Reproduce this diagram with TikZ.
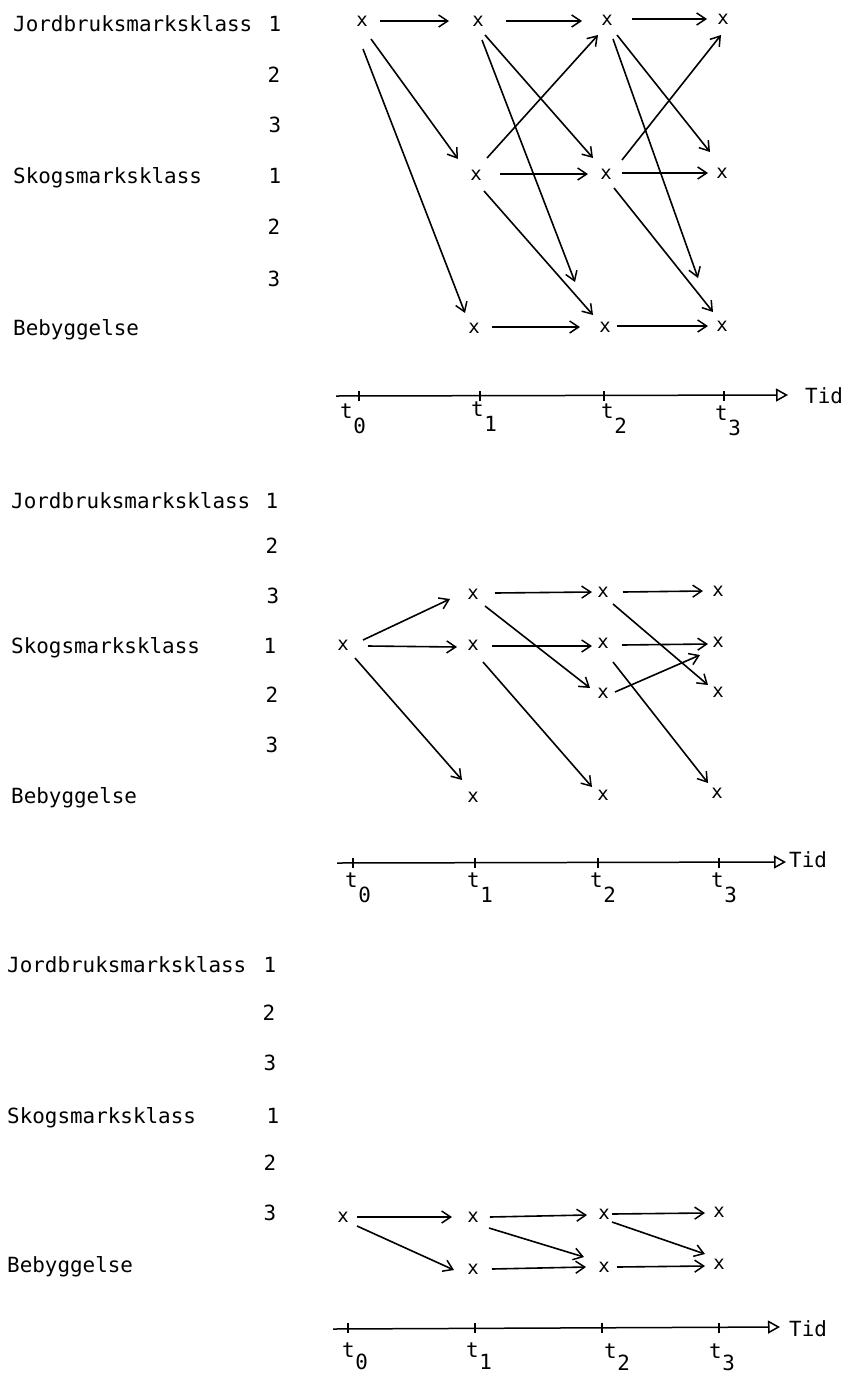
\documentclass[tikz,border=0pt]{standalone}
\usepackage{fontspec}
\newfontfamily\typw{DejaVu Sans Mono}
\usetikzlibrary{arrows.meta,calc}
\begin{document}
\begin{tikzpicture}[x=1pt,y=-1pt,
  lab/.style={anchor=base west,inner sep=0pt,font=\typw\fontsize{20.9}{24}\selectfont},
  num/.style={anchor=base,inner sep=0pt,font=\typw\fontsize{20.9}{24}\selectfont},
  mk/.style={inner sep=0pt,font=\typw\fontsize{19}{20}\selectfont},
  arr/.style={line width=1.6pt,-{Straight Barb[length=9pt,width=12pt,line width=1.5pt]}},
  ax/.style={line width=1.5pt,-{Triangle[open,length=12pt,width=13pt,line width=1.5pt]}},
  tk/.style={line width=1.4pt},
  tl/.style={anchor=base west,inner sep=0pt,font=\typw\fontsize{20.9}{24}\selectfont}]
\useasboundingbox (0,0) rectangle (843,1374);
\newcommand\tsub[2][15pt]{t\kern0.5pt\raisebox{-#1}{#2}}

% ================= Panel 1 =================
\node[lab] (p1l1) at (13,31) {Jordbruksmarksklass};
\node[num] (p1n1) at (275,31) {1};
\node[num] (p1n2) at (274,82) {2};
\node[num] (p1n3) at (275,132) {3};
\node[lab] (p1l2) at (13,183) {Skogsmarksklass};
\node[num] (p1n4) at (275,183) {1};
\node[num] (p1n5) at (274,234) {2};
\node[num] (p1n6) at (274,286) {3};
\node[lab] (p1l3) at (13,335) {Bebyggelse};

\node[mk] (a0) at (362,21) {x};
\node[mk] (a1) at (478,21) {x};
\node[mk] (a2) at (607,20) {x};
\node[mk] (a3) at (723,19) {x};
\node[mk] (s1) at (476,175) {x};
\node[mk] (s2) at (606,174) {x};
\node[mk] (s3) at (722,173) {x};
\node[mk] (b1) at (474,328) {x};
\node[mk] (b2) at (605,327) {x};
\node[mk] (b3) at (722,326) {x};
\coordinate (e7) at (575,282);
\coordinate (e13) at (698,278);

\draw[arr] ($(a0)+(18,0)$) -- ($(a1)+(-29,0)$);
\draw[arr] ($(a1)+(28,0)$) -- ($(a2)+(-25,1)$);
\draw[arr] ($(a2)+(25,-1)$) -- ($(a3)+(-16,0)$);
\draw[arr] ($(a0)+(9,18)$) -- ($(s1)+(-18,-16)$);
\draw[arr] ($(a0)+(1,28)$) -- ($(b1)+(-9,-15)$);
\draw[arr] ($(a1)+(7,14)$) -- ($(s2)+(-13,-16)$);
\draw[arr] ($(a1)+(4,19)$) -- (e7);
\draw[arr] ($(s1)+(11,-17)$) -- ($(a2)+(-9,15)$);
\draw[arr] ($(s1)+(24,-1)$) -- ($(s2)+(-18,0)$);
\draw[arr] ($(s1)+(8,16)$) -- ($(b2)+(-12,-12)$);
\draw[arr] ($(b1)+(18,-1)$) -- ($(b2)+(-25,0)$);
\draw[arr] ($(a2)+(10,15)$) -- ($(s3)+(-12,-21)$);
\draw[arr] ($(a2)+(6,19)$) -- (e13);
\draw[arr] ($(s2)+(16,-14)$) -- ($(a3)+(-2,16)$);
\draw[arr] ($(s2)+(16,-1)$) -- ($(s3)+(-14,0)$);
\draw[arr] ($(s2)+(8,14)$) -- ($(b3)+(-9,-14)$);
\draw[arr] ($(b2)+(12,-1)$) -- ($(b3)+(-14,0)$);

\coordinate (ax1s) at (336,396);
\coordinate (ax1e) at (788,395);
\draw[ax] (ax1s) -- (ax1e);
\foreach \n/\x in {0/359,1/480,2/604,3/724}{
  \coordinate (k1t\n) at (\x,396);
  \draw[tk] ($(k1t\n)+(0,-5)$) -- ($(k1t\n)+(0,5)$);
}
\node[lab] (tid1) at (805,403) {Tid};
\node[tl] (p1t0) at (340,418) {\tsub{0}};
\node[tl] (p1t1) at (471,416) {\tsub{1}};
\node[tl] (p1t2) at (601,418) {\tsub{2}};
\node[tl] (p1t3) at (715,420) {\tsub{3}};

% ================= Panel 2 =================
\node[lab] (p2l1) at (11,508) {Jordbruksmarksklass};
\node[num] (p2n1) at (272,508) {1};
\node[num] (p2n2) at (272,553) {2};
\node[num] (p2n3) at (273,603) {3};
\node[lab] (p2l2) at (11,653) {Skogsmarksklass};
\node[num] (p2n4) at (270,653) {1};
\node[num] (p2n5) at (272,702) {2};
\node[num] (p2n6) at (272,752) {3};
\node[lab] (p2l3) at (11,803) {Bebyggelse};

\node[mk] (c0) at (343,645) {x};
\node[mk] (d1) at (473,594) {x};
\node[mk] (f1) at (473,645) {x};
\node[mk] (g1) at (473,797) {x};
\node[mk] (d2) at (603,592) {x};
\node[mk] (f2) at (603,643) {x};
\node[mk] (h2) at (603,693) {x};
\node[mk] (g2) at (603,795) {x};
\node[mk] (d3) at (718,591) {x};
\node[mk] (f3) at (718,642) {x};
\node[mk] (h3) at (718,692) {x};
\node[mk] (g3) at (717,793) {x};

\draw[arr] ($(c0)+(20,-5)$) -- ($(d1)+(-23,5)$);
\draw[arr] ($(c0)+(25,1)$) -- ($(f1)+(-16,2)$);
\draw[arr] ($(c0)+(12,13)$) -- ($(g1)+(-11,-17)$);
\draw[arr] ($(d1)+(22,-1)$) -- ($(d2)+(-11,0)$);
\draw[arr] ($(d1)+(12,12)$) -- ($(h2)+(-13,-5)$);
\draw[arr] ($(f1)+(19,1)$) -- ($(f2)+(-11,3)$);
\draw[arr] ($(f1)+(10,17)$) -- ($(g2)+(-11,-8)$);
\draw[arr] ($(d2)+(20,0)$) -- ($(d3)+(-15,0)$);
\draw[arr] ($(d2)+(10,12)$) -- ($(h3)+(-10,-7)$);
\draw[arr] ($(f2)+(19,2)$) -- ($(f3)+(-10,2)$);
\draw[arr] ($(f2)+(10,19)$) -- ($(g3)+(-9,-10)$);
\draw[arr] ($(h2)+(12,-1)$) -- ($(f3)+(-18,13)$);

\coordinate (ax2s) at (337,863);
\coordinate (ax2e) at (786,862);
\draw[ax] (ax2s) -- (ax2e);
\foreach \n/\x in {0/353,1/475,2/598,3/719}{
  \coordinate (k2t\n) at (\x,862.5);
  \draw[tk] ($(k2t\n)+(0,-5)$) -- ($(k2t\n)+(0,5)$);
}
\node[lab] (tid2) at (789,867) {Tid};
\node[tl] (p2t0) at (345,887) {\tsub{0}};
\node[tl] (p2t1) at (467,887) {\tsub{1}};
\node[tl] (p2t2) at (590,887) {\tsub{2}};
\node[tl] (p2t3) at (711,887) {\tsub{3}};

% ================= Panel 3 =================
\node[lab] (p3l1) at (7,972) {Jordbruksmarksklass};
\node[num] (p3n1) at (270,972) {1};
\node[num] (p3n2) at (269,1020) {2};
\node[num] (p3n3) at (270,1070) {3};
\node[lab] (p3l2) at (7,1123) {Skogsmarksklass};
\node[num] (p3n4) at (273,1123) {1};
\node[num] (p3n5) at (270,1170) {2};
\node[num] (p3n6) at (270,1220) {3};
\node[lab] (p3l3) at (7,1272) {Bebyggelse};

\node[mk] (k0) at (343,1217) {x};
\node[mk] (k1) at (473,1217) {x};
\node[mk] (m1) at (473,1269) {x};
\node[mk] (k2) at (604,1214) {x};
\node[mk] (m2) at (604,1267) {x};
\node[mk] (k3) at (719,1212) {x};
\node[mk] (m3) at (719,1264) {x};

\draw[arr] ($(k0)+(14,0)$) -- ($(k1)+(-21,0)$);
\draw[arr] ($(k0)+(14,9)$) -- ($(m1)+(-19,1)$);
\draw[arr] ($(k1)+(17,0)$) -- ($(k2)+(-17,1)$);
\draw[arr] ($(k1)+(16,11)$) -- ($(m2)+(-20,-10)$);
\draw[arr] ($(m1)+(19,0)$) -- ($(m2)+(-18,0)$);
\draw[arr] ($(k2)+(8,0)$) -- ($(k3)+(-14,1)$);
\draw[arr] ($(k2)+(8,8)$) -- ($(m3)+(-14,-10)$);
\draw[arr] ($(m2)+(13,0)$) -- ($(m3)+(-14,2)$);

\coordinate (ax3s) at (333,1329);
\coordinate (ax3e) at (780,1327);
\draw[ax] (ax3s) -- (ax3e);
\foreach \n/\x in {0/348,1/475,2/602,3/719}{
  \coordinate (k3t\n) at (\x,1328);
  \draw[tk] ($(k3t\n)+(0,-5)$) -- ($(k3t\n)+(0,5)$);
}
\node[lab] (tid3) at (789,1336) {Tid};
\node[tl] (p3t0) at (342,1357) {\tsub[12pt]{0}};
\node[tl] (p3t1) at (466,1357) {\tsub[12pt]{1}};
\node[tl] (p3t2) at (604,1358) {\tsub[12pt]{2}};
\node[tl] (p3t3) at (709,1358) {\tsub[12pt]{3}};
\end{tikzpicture}
\end{document}
